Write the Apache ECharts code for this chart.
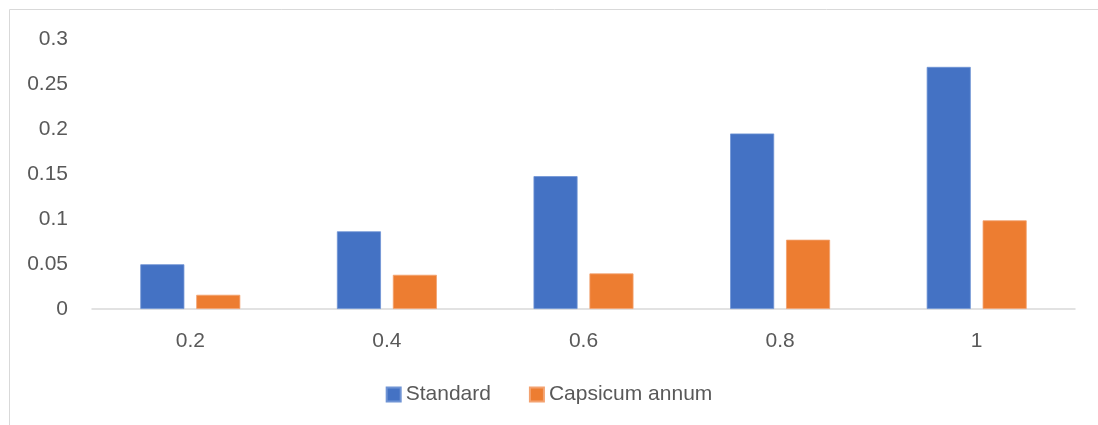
<!DOCTYPE html>
<html>
<head>
<meta charset="utf-8">
<script src="https://cdn.jsdelivr.net/npm/echarts@6/dist/echarts.min.js"></script>
<style>
  html, body { margin: 0; padding: 0; background: #fff; }
  #chart { width: 1098px; height: 425px; }
</style>
</head>
<body>
<div id="chart"></div>
<script>
const categories = ["0.2", "0.4", "0.6", "0.8", "1"];
const standard = [0.0497, 0.0863, 0.1476, 0.195, 0.269];
const capsicum = [0.0158, 0.038, 0.0395, 0.077, 0.0985];
const yTicks = [0, 0.05, 0.1, 0.15, 0.2, 0.25, 0.3];

const myChart = echarts.init(document.getElementById("chart"));
const labelFont = "Liberation Sans";
var option = {
  animation: false,
  graphic: [
    {
      type: "rect",
      shape: { x: 9.5, y: 9.5, width: 1200, height: 500 },
      style: { fill: "none", stroke: "#d9d9d9", lineWidth: 1 },
    },
  ],
  legend: {
    bottom: 15,
    left: "center",
    itemWidth: 14,
    itemHeight: 14,
    itemGap: 38,
    icon: "rect",
    textStyle: { color: "#595959", fontSize: 21, fontFamily: labelFont },
    data: ["Standard", "Capsicum annum"],
  },
  grid: {
    left: 92,
    right: 23,
    top: 39,
    bottom: 116,
  },
  xAxis: {
    type: "category",
    data: categories,
    axisTick: { show: false },
    axisLine: { lineStyle: { color: "#d9d9d9", width: 1.5 } },
    axisLabel: {
      color: "#595959",
      fontSize: 21,
      fontFamily: labelFont,
      margin: 22,
    },
  },
  yAxis: {
    type: "value",
    min: 0,
    max: 0.3,
    interval: 0.05,
    axisLine: { show: false },
    axisTick: { show: false },
    splitLine: { show: false },
    axisLabel: {
      color: "#595959",
      fontSize: 21,
      fontFamily: labelFont,
      margin: 24,
      formatter: (v) => {
        const t = yTicks.find((x) => Math.abs(x - v) < 1e-9);
        return String(t !== undefined ? t : +v.toFixed(2));
      },
    },
  },
  series: [
    {
      name: "Standard",
      type: "bar",
      barWidth: "22.4%",
      barGap: "27%",
      itemStyle: { color: "#4472C4", borderColor: "#6f93d4", borderWidth: 0.8 },
      data: standard,
    },
    {
      name: "Capsicum annum",
      type: "bar",
      barWidth: "22.4%",
      itemStyle: { color: "#ED7D31", borderColor: "#f3a270", borderWidth: 0.8 },
      data: capsicum,
    },
  ],
};
myChart.setOption(option);
window.addEventListener("resize", function () {
  myChart.resize();
});
</script>
</body>
</html>
